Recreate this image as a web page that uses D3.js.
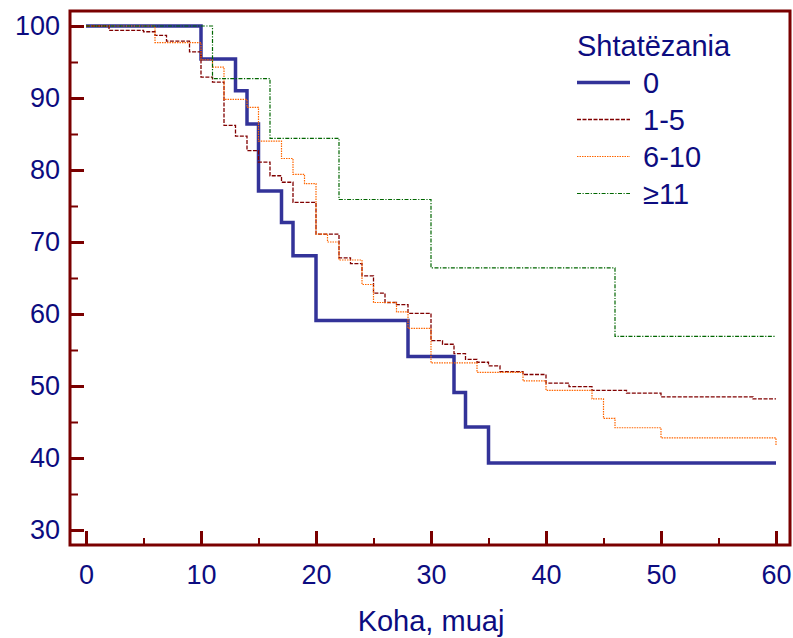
<!DOCTYPE html>
<html>
<head>
<meta charset="utf-8">
<script src="https://cdn.jsdelivr.net/npm/d3@7"></script>
<style>
  body { margin: 0; background: #fff; }
  svg text { font-family: "Liberation Sans", Arial, sans-serif; fill: #0c0c80; }
</style>
</head>
<body>
<div id="chart"></div>
<script>
const width = 793;
const height = 638;

// Survival (%) by month, one pair of arrays per group
const months0 = [0, 10, 13, 14, 15, 17, 18, 20, 28, 32, 33, 35, 60];
const surv0 = [100, 95.4, 91.0, 86.4, 77.1, 72.7, 68.1, 59.1, 54.1, 49.1, 44.3, 39.3, 39.3];

const months15 = [0, 2, 5, 6, 7, 9, 10, 11, 12, 13, 14, 15, 16, 17, 18, 20, 22, 23, 24, 25, 26, 27, 28,
  30, 31, 32, 33, 34, 35, 36, 38, 40, 42, 44, 47, 50, 58, 60];
const surv15 = [100, 99.4, 99.2, 98.7, 97.9, 96.4, 92.9, 92.2, 86.2, 84.7, 82.7, 81.1, 79.2, 78.3, 75.5,
  71.1, 67.8, 67.0, 65.3, 62.9, 61.6, 61.3, 60.1, 56.3, 55.8, 54.5, 53.7, 53.3, 52.8, 52.0, 51.6,
  50.4, 49.9, 49.4, 49.0, 48.5, 48.2, 48.2];

const months610 = [0, 6, 10, 11, 12, 14, 15, 17, 18, 19, 20, 21, 22, 24, 25, 27, 28, 30, 34, 38, 40,
  44, 45, 46, 50, 60];
const surv610 = [100, 97.7, 95.3, 94.3, 89.8, 88.7, 84.0, 81.6, 79.4, 78.1, 71.1, 70.0, 67.5, 64.1,
  61.6, 60.3, 58.0, 53.2, 51.9, 50.7, 49.4, 48.2, 45.5, 44.2, 42.8, 41.7];

const months11 = [0, 11, 16, 22, 30, 46, 60];
const surv11 = [100, 92.7, 84.4, 75.9, 66.4, 56.9, 56.9];

const groupLabels = ["0", "1-5", "6-10", "≥11"];
const xMajorTicks = [0, 10, 20, 30, 40, 50, 60];
const xMinorTicks = [5, 15, 25, 35, 45, 55];
const yMajorTicks = [30, 40, 50, 60, 70, 80, 90, 100];
const yMinorTicks = [35, 45, 55, 65, 75, 85, 95];

const zip = (ms, vs) => ms.map((m, i) => ({ t: m, s: vs[i] }));

const series = [
  { label: groupLabels[0], data: zip(months0, surv0), color: "#333399", width: 3.5, dash: null },
  { label: groupLabels[1], data: zip(months15, surv15), color: "#800000", width: 1.3, dash: "4,1.5" },
  { label: groupLabels[2], data: zip(months610, surv610), color: "#ff6600", width: 1.2, dash: "1.5,1" },
  { label: groupLabels[3], data: zip(months11, surv11), color: "#006600", width: 1.2, dash: "4,1.5,1.2,1.5" },
];

// plot frame
const frame = { left: 70, right: 790, top: 11, bottom: 545 };

const x = d3.scaleLinear().domain([0, 60]).range([86, 776]);
const y = d3.scaleLinear().domain([30, 100]).range([530, 26]);

const svg = d3
  .select("#chart")
  .append("svg")
  .attr("width", width)
  .attr("height", height);

const axisColor = "#7a0000";

// Y axis: ticks point inward
const yMajor = svg
  .append("g")
  .attr("transform", `translate(${frame.left},0)`)
  .call(d3.axisLeft(y).tickValues(yMajorTicks).tickSize(-14).tickPadding(10));
const yMinor = svg
  .append("g")
  .attr("transform", `translate(${frame.left},0)`)
  .call(d3.axisLeft(y).tickValues(yMinorTicks).tickSize(-8).tickFormat(""));

const xMajor = svg
  .append("g")
  .attr("transform", `translate(0,${frame.bottom})`)
  .call(d3.axisBottom(x).tickValues(xMajorTicks).tickSize(-14).tickPadding(20));
const xMinor = svg
  .append("g")
  .attr("transform", `translate(0,${frame.bottom})`)
  .call(d3.axisBottom(x).tickValues(xMinorTicks).tickSize(-7).tickFormat(""));

[yMajor, yMinor, xMajor, xMinor].forEach((ax) => {
  ax.select(".domain").remove();
  ax.selectAll("line").attr("stroke", axisColor);
  ax.selectAll("text").attr("font-size", 27).attr("fill", "#0c0c80");
});
[yMajor, xMajor].forEach((ax) => ax.selectAll("line").attr("stroke-width", 3));
[yMinor, xMinor].forEach((ax) => ax.selectAll("line").attr("stroke-width", 2));

// frame box
svg
  .append("rect")
  .attr("x", frame.left)
  .attr("y", frame.top)
  .attr("width", frame.right - frame.left)
  .attr("height", frame.bottom - frame.top)
  .attr("fill", "none")
  .attr("stroke", axisColor)
  .attr("stroke-width", 3);

// step curves
const line = d3
  .line()
  .x((d) => x(d.t))
  .y((d) => y(d.s))
  .curve(d3.curveStepAfter);

svg
  .append("g")
  .selectAll("path")
  .data(series)
  .join("path")
  .attr("d", (d) => line(d.data))
  .attr("fill", "none")
  .attr("stroke", (d) => d.color)
  .attr("stroke-width", (d) => d.width)
  .attr("stroke-dasharray", (d) => d.dash);

// x title
svg
  .append("text")
  .attr("x", (x(0) + x(60)) / 2)
  .attr("y", 631)
  .attr("text-anchor", "middle")
  .attr("font-size", 29)
  .text("Koha, muaj");

// Legend
const legend = svg.append("g").attr("transform", "translate(577,0)");
legend
  .append("text")
  .attr("x", 0)
  .attr("y", 56)
  .attr("font-size", 29)
  .text("Shtatëzania");

const rows = legend
  .selectAll("g.row")
  .data(series)
  .join("g")
  .attr("class", "row")
  .attr("transform", (d, i) => `translate(0,${82.5 + i * 37})`);

rows
  .append("line")
  .attr("x1", 0)
  .attr("x2", 53)
  .attr("stroke", (d) => d.color)
  .attr("stroke-width", (d) => d.width)
  .attr("stroke-dasharray", (d) => d.dash);

rows
  .append("text")
  .attr("x", 66)
  .attr("dy", "0.36em")
  .attr("font-size", 29)
  .text((d) => d.label);
</script>
</body>
</html>
